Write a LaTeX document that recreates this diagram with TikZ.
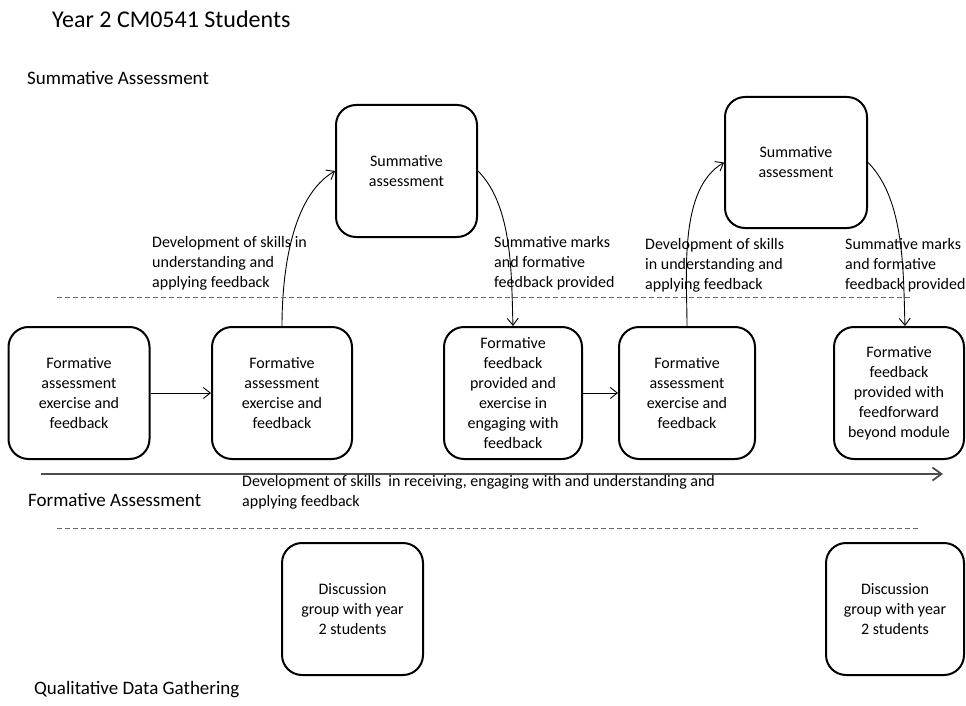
\documentclass[tikz,border=0pt]{standalone}
\usepackage{fontspec}
\setmainfont{Carlito}
\usetikzlibrary{positioning}
\usetikzlibrary{arrows.meta}
\tikzset{>={Straight Barb[length=7pt,width=11pt]}}
\tikzset{box/.style={draw,line width=2pt,rounded corners=20pt,inner sep=0pt,align=center,
  minimum width=141pt,minimum height=132pt,font=\fontsize{16}{20}\selectfont}}
\tikzset{conn/.style={->,line width=0.9pt}}
\tikzset{lbl/.style={anchor=west,align=left,inner sep=0pt,font=\fontsize{16}{20}\selectfont}}
\tikzset{lane/.style={anchor=west,inner sep=0pt,font=\fontsize{19}{23}\selectfont}}
\tikzset{sep/.style={draw=black!60,dash pattern=on 5pt off 3pt,line width=0.9pt}}

\begin{document}
\begin{tikzpicture}[x=1pt,y=1pt]
\useasboundingbox (0,0) rectangle (966,-706);

\node[anchor=west,inner sep=0pt,font=\fontsize{24}{28}\selectfont] (title) at (52,-19) {Year 2 CM0541 Students};
\node[lane] (sumlane) at (27,-78) {Summative Assessment};
\node[lane] (formlane) at (28,-500) {Formative Assessment};
\node[lane] (qualane) at (34,-690) {Qualitative Data Gathering};

% formative row
\begin{scope}[on grid]
\node[box] (FA) at (79,-393) {Formative\\assessment\\exercise and\\feedback};
\node[box,minimum width=140pt] (FB) [right=203pt of FA] {Formative\\assessment\\exercise and\\feedback};
\node[box,minimum width=138pt] (FC) [right=231pt of FB] {Formative\\feedback\\provided and\\exercise in\\engaging with\\feedback};
\node[box,minimum width=136pt] (FD) [right=174pt of FC] {Formative\\assessment\\exercise and\\feedback};
\node[box,minimum width=130pt] (FE) [right=212pt of FD] {Formative\\feedback\\provided with\\feedforward\\beyond module};
\end{scope}

% summative
\node[box] (S1) at (406.5,-171) {Summative\\assessment};
\node[box,minimum width=142pt,minimum height=131pt] (S2) at (796,-162.5) {Summative\\assessment};

% discussion groups
\node[box] (G1) at (352.5,-609) {Discussion\\group with year\\2 students};
\node[box,minimum width=138pt] (G2) at (895,-609) {Discussion\\group with year\\2 students};

\draw[conn] (FA) -- (FB);
\draw[conn] (FC) -- (FD);
\draw[conn] (FB.north) to[out=90,in=210,looseness=0.8] (S1.west);
\draw[conn] (S1.east) to[out=-45,in=92,looseness=0.8] (FC.north);
\draw[conn] (FD.north) to[out=90,in=210,looseness=0.8] (S2.west);
\draw[conn] (S2.east) to[out=-45,in=92,looseness=0.8] ([xshift=6pt]FE.north);

\node[lbl] (dev1) at (152,-263) {Development of skills in\\understanding and\\applying feedback};
\node[lbl] (marks1) at (494,-263) {Summative marks\\and formative\\feedback provided};
\node[lbl] (dev2) at (645,-265) {Development of skills\\in understanding and\\applying feedback};
\node[lbl] (marks2) at (845,-265) {Summative marks\\and formative\\feedback provided};

\coordinate (tl0) at (41,-474);
\coordinate (tl1) at (943,-474);
\draw[black!70,line width=1.8pt,-{Straight Barb[length=9pt,width=13pt]}] (tl0) -- (tl1);
\node[lbl] (devall) at (242,-492) {Development of skills~ in receiving, engaging with and understanding and\\applying feedback};

\coordinate (d1a) at (57,-297);
\coordinate (d1b) at (910,-297);
\coordinate (d2a) at (57,-528);
\coordinate (d2b) at (918,-528);
\draw[sep] (d1a) -- (d1b);
\draw[sep] (d2a) -- (d2b);
\end{tikzpicture}
\end{document}
